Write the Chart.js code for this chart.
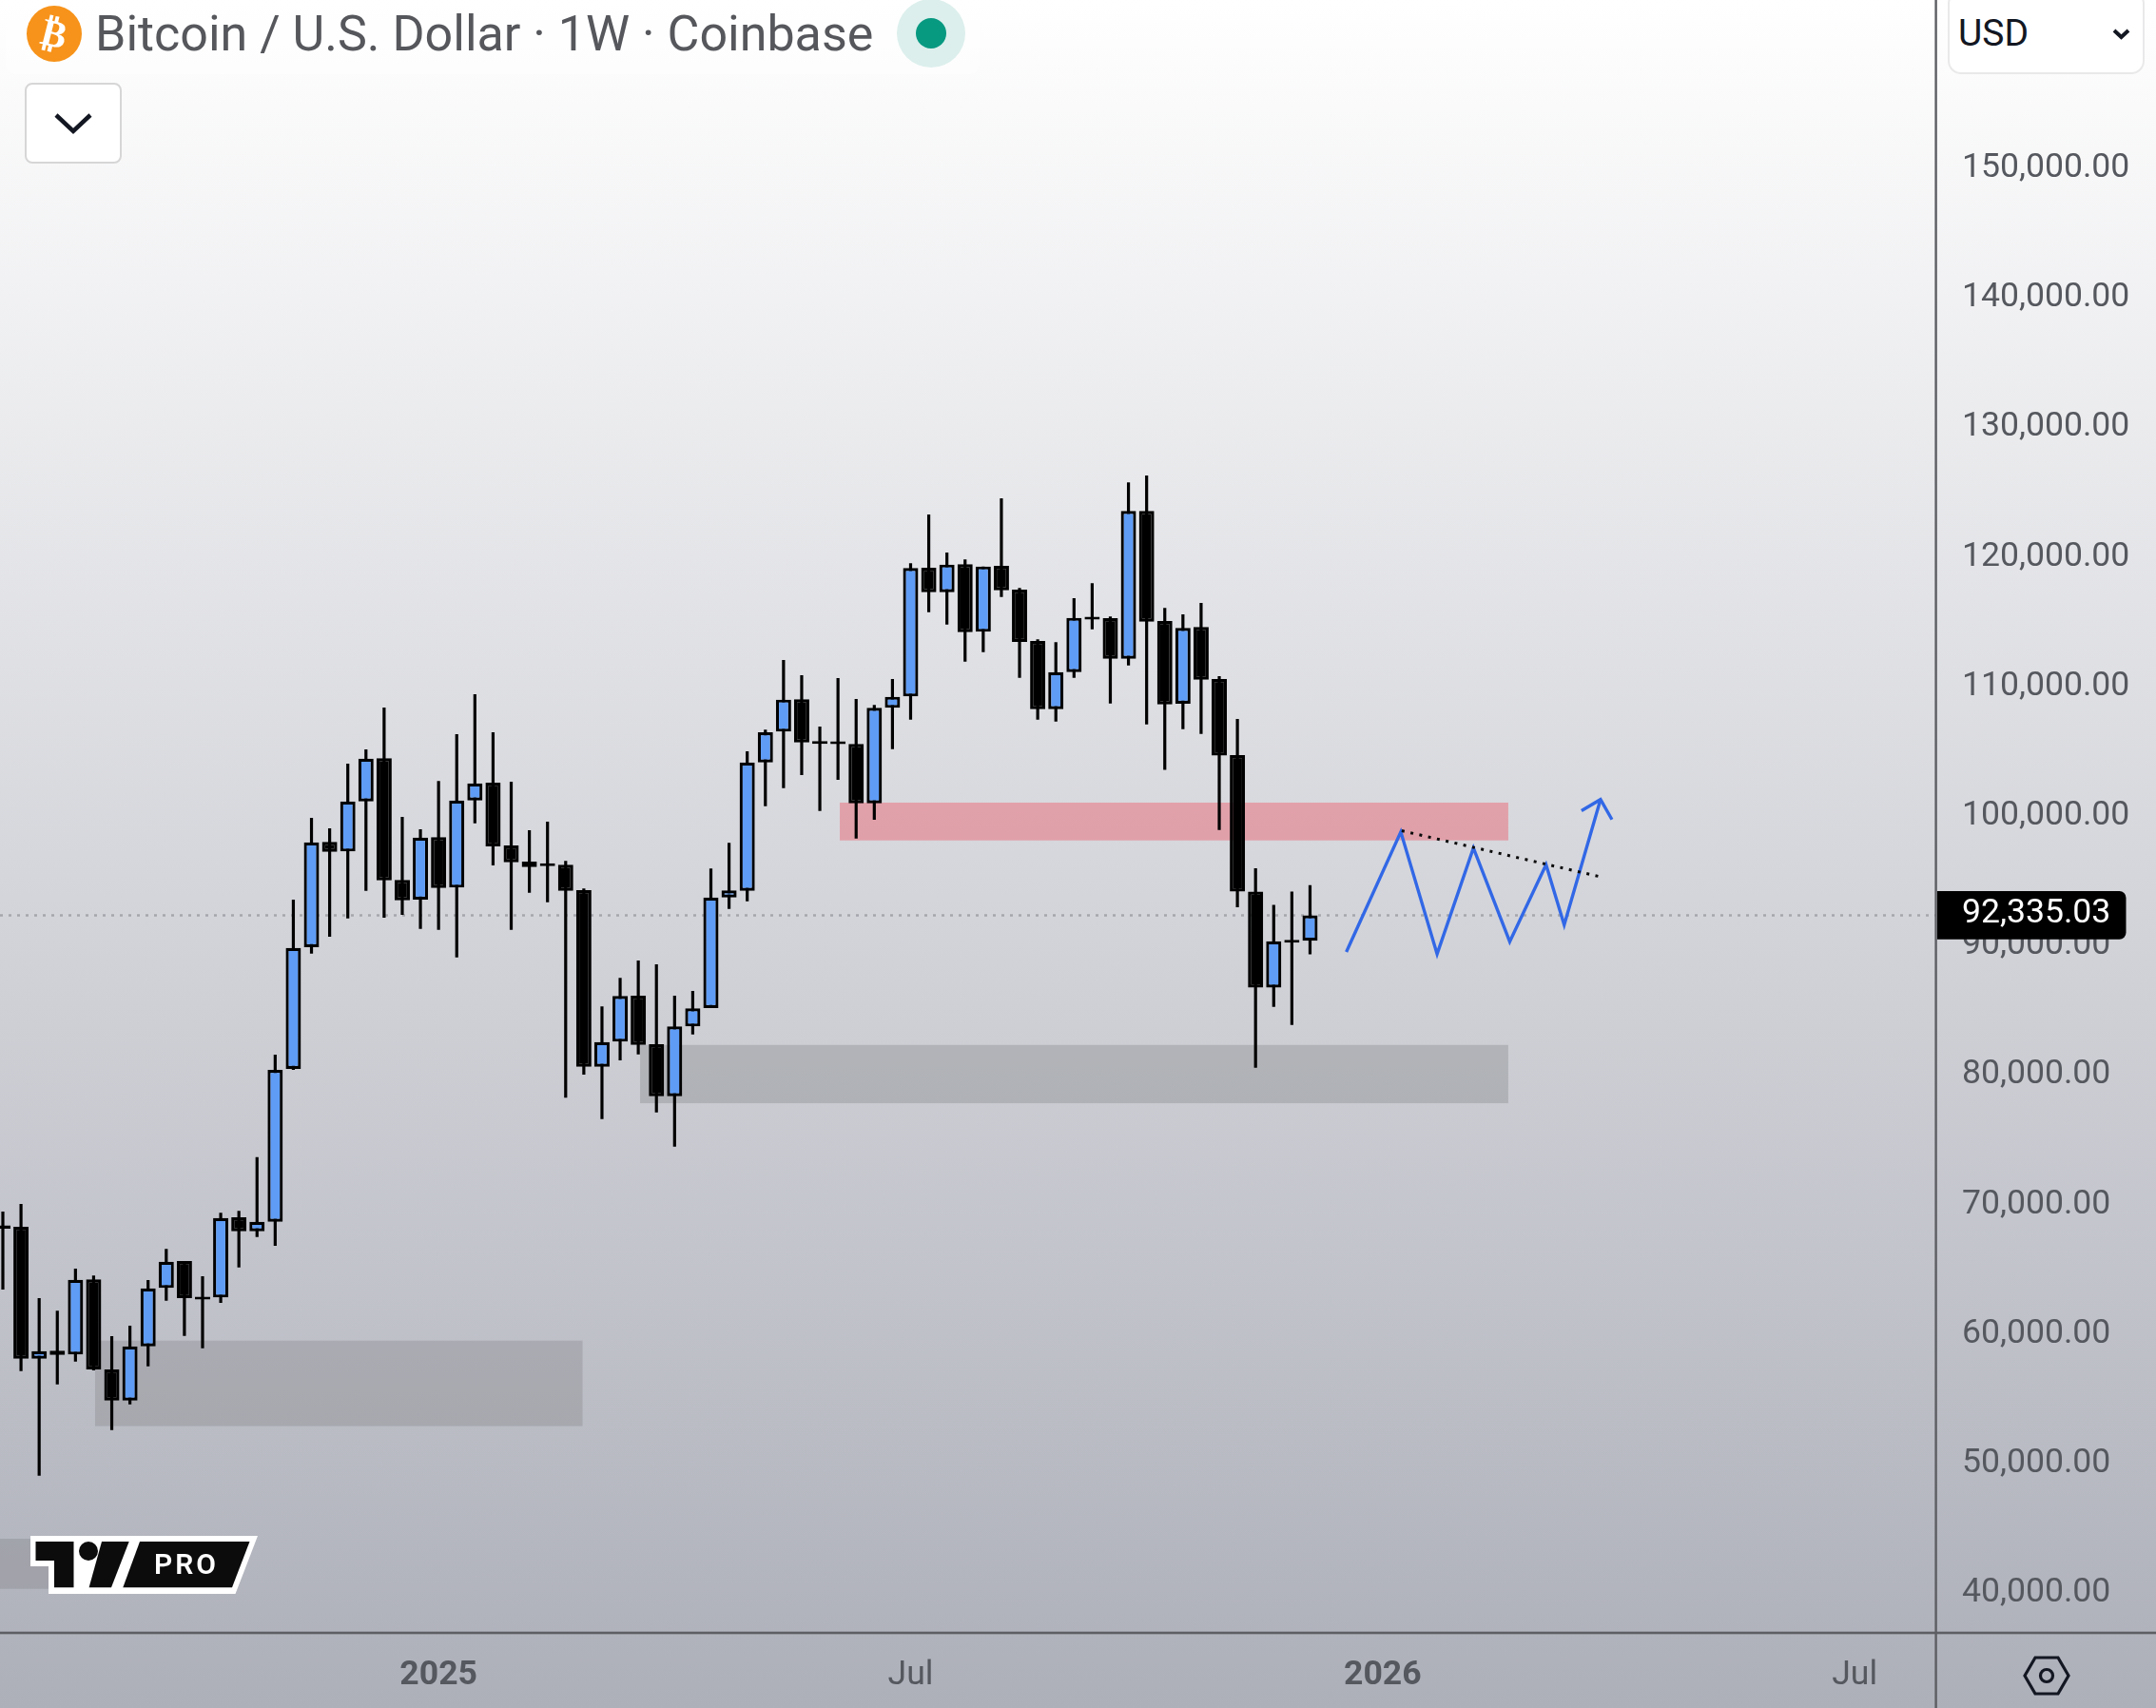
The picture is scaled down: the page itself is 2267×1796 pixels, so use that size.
<!DOCTYPE html>
<html>
<head>
<meta charset="utf-8">
<script src="https://cdn.jsdelivr.net/npm/chart.js@4/dist/chart.umd.min.js"></script>
<style>
html,body{margin:0;padding:0;width:2267px;height:1796px;overflow:hidden}
body{background:linear-gradient(180deg,#ffffff 0%,#adafb9 100%);font-family:Roboto,sans-serif;position:relative}
canvas{position:absolute;left:0;top:0;display:block}
.o{position:absolute;white-space:nowrap}
</style>
</head>
<body>
<canvas id="c" width="2267" height="1796"></canvas>

<div class="o" style="left:6px;top:0;width:1024px;height:78px;background:rgba(255,255,255,.45);border-radius:0 0 10px 10px"></div>
<div class="o" style="left:28px;top:6px;width:58px;height:59px;border-radius:50%;background:#f7931a"></div>
<div class="o" style="left:28px;top:6px;width:58px;height:59px;line-height:59px;text-align:center;color:#fff;font:bold 40px/59px 'DejaVu Sans';transform:rotate(14deg)">₿</div>
<div class="o" style="left:100px;top:1px;font:400 52px/70px Roboto;color:#55575c">Bitcoin / U.S. Dollar · 1W · Coinbase</div>
<div class="o" style="left:943px;top:-1px;width:72px;height:72px;border-radius:50%;background:#dcefec"></div>
<div class="o" style="left:963px;top:19px;width:32px;height:32px;border-radius:50%;background:#089981"></div>
<div class="o" style="left:26px;top:87px;width:98px;height:81px;box-sizing:content-box;border:2.5px solid #d6d6d6;border-radius:8px;background:#fff"></div>
<svg class="o" style="left:0;top:0" width="2267" height="1796" viewBox="0 0 2267 1796">
  <polyline points="59,121 77,138 95,121" fill="none" stroke="#131722" stroke-width="4.5"/>
</svg>
<div class="o" style="left:2048px;top:-10px;width:203px;height:84px;border:2.5px solid #e9e9ea;border-radius:14px;background:#fff"></div>
<div class="o" style="left:2059px;top:1px;font:400 39px/68px Roboto;color:#131722">USD</div>
<svg class="o" style="left:0;top:0" width="2267" height="1796" viewBox="0 0 2267 1796">
  <polyline points="2223,32 2230.5,39 2238,32" fill="none" stroke="#131722" stroke-width="4"/>
  <polygon points="2129,1762 2140,1743 2164,1743 2175,1762 2164,1781 2140,1781" fill="none" stroke="#131722" stroke-width="3.2"/>
  <circle cx="2152" cy="1762" r="6.5" fill="none" stroke="#131722" stroke-width="3.2"/>
  <polygon points="32,1615 271,1615 247.5,1676 51,1676 51,1647 32,1647" fill="#fff"/>
  <polygon points="37.5,1621 77.5,1621 77.5,1669.3 57,1669.3 57,1641 37.5,1641" fill="#0c0c0c"/>
  <circle cx="93" cy="1631" r="10" fill="#0c0c0c"/>
  <polygon points="107,1621 135.7,1621 117,1669.3 93.6,1669.3" fill="#0c0c0c"/>
  <polygon points="147,1621 262.5,1621 244,1669.3 129.3,1669.3" fill="#0c0c0c"/>
</svg>
<div class="o" style="left:162px;top:1627px;font:600 30px/36px Roboto;letter-spacing:3px;color:#fff">PRO</div>

<script>
const opens  = [68400,68288,58105,58717,58424,64225,57273,54874,59060,63563,65644,62900,62829,69022,67945,68679,80477,89876,98003,97268,101136,104465,95065,93548,98370,94478,101209,102580,97734,96485,96350,96240,94282,80648,82582,86131,82387,78372,83757,85177,93719,94233,104146,106521,109018,105800,105770,105566,100989,108357,109238,119176,117291,119445,114231,119323,117487,113521,108259,111122,115400,115284,112150,123557,115063,108675,114598,110584,104712,94173,86757,90450,90372];
const highs  = [69463,70050,62780,61801,65057,64518,59843,60651,64176,66574,65644,64469,69364,69512,73673,81579,93548,99863,99055,104048,105150,108381,99936,98982,102702,106325,109409,106472,102653,98908,99569,96534,94405,85300,87502,88848,88555,86131,86498,95947,97930,105003,106668,112053,110878,106913,110658,109042,108577,110584,119518,123288,120350,119812,119274,124536,117609,113644,113424,116826,117976,115406,125760,126298,116067,115577,116459,110800,107493,95966,93153,94173,94668];
const lows   = [63441,57151,49073,56122,57885,57200,52598,54581,57518,62584,59868,58913,62413,65155,67504,66819,80404,89387,90684,92104,94233,92153,92373,91296,91222,89093,99447,96191,91222,94087,93352,78250,80036,76610,81138,81603,77124,74480,83145,85177,92838,93426,100769,102164,103168,100402,102800,98272,99717,105175,107451,115749,114794,111930,112665,116924,110682,107451,107304,110682,114427,108700,111637,107084,103568,106717,106350,98933,92968,80575,85272,83882,89321];
const closes = [68150,58105,58692,58398,64200,57273,54874,59060,63539,65595,62780,62680,68973,67945,68679,80404,89827,97978,97244,101136,104440,95041,93499,98345,94453,101209,102531,97660,96436,96069,96130,94233,80648,82558,86107,82338,78372,83757,85153,93719,94258,104146,106472,108993,105689,105580,105550,100989,108357,109214,119151,117291,119420,114207,119274,117438,113448,108259,111122,115308,115180,112150,123557,115014,108626,114525,110535,104681,94173,86757,90341,90230,92335.03];

const priceTicks = [40000,50000,60000,70000,80000,90000,100000,110000,120000,130000,140000,150000];
const timeTickWeeks  = [24,50,76,102];
const timeTickLabels = ['2025','Jul','2026','Jul'];
const boldTimeLabels = ['2025','2026'];
const lastPrice = 92335.03;

const zoneStart = [-1,5.08,35.1,46.1];
const zoneEnd   = [3,31.93,82.92,82.92];
const zoneLow   = [40335,52900,77830,98123];
const zoneHigh  = [44204,59500,82330,101040];
const zoneColor = ['rgba(90,90,88,.2)','rgba(90,90,88,.2)','rgba(72,73,73,.2)','rgba(242,54,69,.34)'];

const pathWeeks  = [74,77,79,81,83,85,86,88];
const pathPrices = [89508,98778,89352,97542,90310,96244,91608,101282];
const arrowWeeks  = [86.95,88,88.63];
const arrowPrices = [100416,101282,99736];
const trendWeeks  = [77.05,88];
const trendPrices = [98871,95312];

const BLUE='#5e9cf6', INK='#000000', AXIS='#5c5e63', TEXT='#55585e';
const xMin=-0.157, xMax=106.47, yMin=36935, yMax=163013;

const wickData = highs.map((h,i)=>({x:i,y:[lows[i],h]}));
const upData=[],downData=[];
closes.forEach((c,i)=>{
  const o=opens[i];
  (c>=o?upData:downData).push({x:i,y:[Math.min(o,c),Math.max(o,c)]});
});
const zip=(a,b)=>a.map((x,i)=>({x,y:b[i]}));
const bodyOpts={type:'bar',barThickness:16,borderColor:INK,borderWidth:3.2,borderSkipped:false,inflateAmount:0,grouped:false,order:4};

const decor={
  id:'decor',
  beforeDatasetsDraw(ch){
    const {ctx,chartArea:a,scales:{x,y}}=ch;
    ctx.save();ctx.beginPath();ctx.rect(a.left,a.top,a.width,a.height);ctx.clip();
    zoneStart.forEach((s,i)=>{
      const x0=x.getPixelForValue(s),x1=x.getPixelForValue(zoneEnd[i]);
      const y0=y.getPixelForValue(zoneHigh[i]),y1=y.getPixelForValue(zoneLow[i]);
      ctx.fillStyle=zoneColor[i];ctx.fillRect(x0,y0,x1-x0,y1-y0);
    });
    ctx.restore();
  },
  afterDraw(ch){
    const {ctx,chartArea:a,scales:{y}}=ch;
    ctx.save();
    ctx.fillStyle=AXIS;
    ctx.fillRect(0,a.bottom-1.3,ch.width,2.6);
    ctx.fillRect(a.right-1.1,0,2.4,ch.height);
    const py=y.getPixelForValue(lastPrice);
    ctx.fillStyle='#000';
    ctx.beginPath();ctx.roundRect(a.right+1.5,py-25.5,198.5,50.7,[0,7,7,0]);ctx.fill();
    ctx.fillStyle='#fff';ctx.font='400 35.6px Roboto';ctx.textAlign='left';ctx.textBaseline='middle';
    ctx.fillText(lastPrice.toLocaleString('en-US',{minimumFractionDigits:2}),2063,py-1);
    ctx.restore();
  }
};

new Chart(document.getElementById('c'),{
  type:'bar',
  data:{datasets:[
    {type:'scatter',data:[{x:xMin,y:lastPrice},{x:xMax,y:lastPrice}],showLine:true,borderColor:'#a5a7ad',borderWidth:2.6,borderDash:[3,6],pointRadius:0,order:10},
    {type:'bar',data:wickData,barThickness:3.2,backgroundColor:INK,borderWidth:0,inflateAmount:0,grouped:false,order:5},
    {...bodyOpts,data:upData,backgroundColor:BLUE},
    {...bodyOpts,data:downData,backgroundColor:INK},
    {type:'scatter',data:zip(pathWeeks,pathPrices),showLine:true,tension:0,borderColor:'#3268e6',borderWidth:3.4,borderJoinStyle:'miter',pointRadius:0,order:2},
    {type:'scatter',data:zip(arrowWeeks,arrowPrices),showLine:true,tension:0,borderColor:'#3268e6',borderWidth:3.4,pointRadius:0,order:2},
    {type:'scatter',data:zip(trendWeeks,trendPrices),showLine:true,tension:0,borderColor:'#0a0a0a',borderWidth:3,borderDash:[3,6.5],pointRadius:0,order:1}
  ]},
  options:{
    responsive:false,animation:false,devicePixelRatio:1,
    layout:{padding:0},
    plugins:{legend:{display:false},tooltip:{enabled:false},title:{display:false}},
    events:[],
    scales:{
      x:{type:'linear',min:xMin,max:xMax,offset:false,
        grid:{display:false,drawTicks:false},border:{display:false},
        afterBuildTicks:s=>{s.ticks=timeTickWeeks.map(v=>({value:v}));},
        afterFit:s=>{s.height=79;s.paddingLeft=0;s.paddingRight=0;},
        ticks:{autoSkip:false,maxRotation:0,minRotation:0,padding:24,color:TEXT,
          callback:v=>timeTickLabels[timeTickWeeks.indexOf(v)],
          font:c=>{const l=timeTickLabels[timeTickWeeks.indexOf(c.tick&&c.tick.value)];
            return {family:'Roboto',size:35.6,weight:boldTimeLabels.includes(l)?'700':'400'};}
        }
      },
      y:{type:'linear',position:'right',min:yMin,max:yMax,
        grid:{display:false,drawTicks:false},border:{display:false},
        afterBuildTicks:s=>{s.ticks=priceTicks.map(v=>({value:v}));},
        afterFit:s=>{s.width=231.5;s.paddingTop=0;s.paddingBottom=0;},
        ticks:{autoSkip:false,crossAlign:'near',padding:27.5,color:TEXT,font:{family:'Roboto',size:35.6,weight:'400'},
          callback:v=>v.toLocaleString('en-US',{minimumFractionDigits:2})
        }
      }
    }
  },
  plugins:[decor]
});
</script>
</body>
</html>
